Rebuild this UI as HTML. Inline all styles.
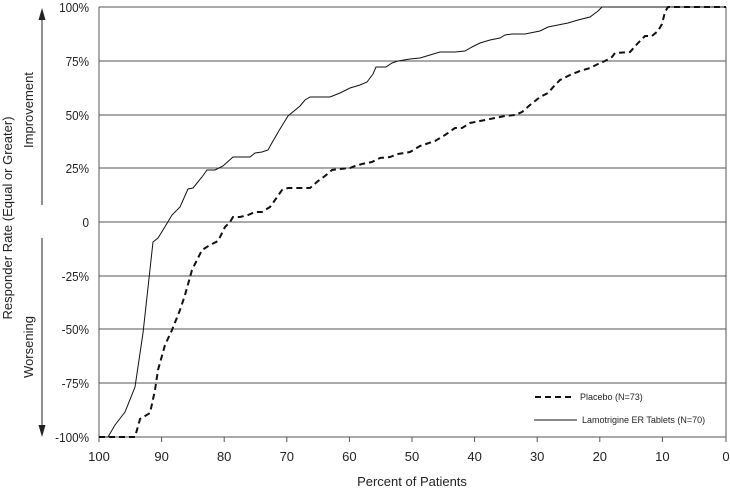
<!DOCTYPE html>
<html><head><meta charset="utf-8"><style>
body{margin:0;background:#fff}
svg{display:block;font-family:"Liberation Sans",sans-serif}
</style></head><body>
<svg width="730" height="491" viewBox="0 0 730 491" xmlns="http://www.w3.org/2000/svg">
<g stroke="#555" stroke-width="1">
<line x1="99" y1="7" x2="726" y2="7"/>
<line x1="99" y1="61" x2="726" y2="61"/>
<line x1="99" y1="115" x2="726" y2="115"/>
<line x1="99" y1="168" x2="726" y2="168"/>
<line x1="99" y1="222" x2="726" y2="222"/>
<line x1="99" y1="276" x2="726" y2="276"/>
<line x1="99" y1="329" x2="726" y2="329"/>
<line x1="99" y1="383" x2="726" y2="383"/>
<line x1="99" y1="437" x2="726" y2="437"/>
<line x1="99" y1="7" x2="99" y2="442"/>
<line x1="726" y1="7" x2="726" y2="442"/>
<line x1="161.6" y1="437" x2="161.6" y2="442"/>
<line x1="224.2" y1="437" x2="224.2" y2="442"/>
<line x1="286.8" y1="437" x2="286.8" y2="442"/>
<line x1="349.4" y1="437" x2="349.4" y2="442"/>
<line x1="412" y1="437" x2="412" y2="442"/>
<line x1="474.6" y1="437" x2="474.6" y2="442"/>
<line x1="537.2" y1="437" x2="537.2" y2="442"/>
<line x1="599.8" y1="437" x2="599.8" y2="442"/>
<line x1="662.4" y1="437" x2="662.4" y2="442"/>
</g>
<g font-size="13" fill="#222" text-anchor="end" transform="translate(89,0) scale(0.9,1) translate(-89,0)">
<text x="89" y="12">100%</text><text x="89" y="66">75%</text><text x="89" y="120">50%</text>
<text x="89" y="173">25%</text><text x="89" y="227">0</text><text x="89" y="281">-25%</text>
<text x="89" y="334">-50%</text><text x="89" y="388">-75%</text><text x="89" y="442">-100%</text>
</g>
<g font-size="13" fill="#222" text-anchor="middle">
<text x="99" y="461">100</text><text x="161.6" y="461">90</text><text x="224.2" y="461">80</text>
<text x="286.8" y="461">70</text><text x="349.4" y="461">60</text><text x="412" y="461">50</text>
<text x="474.6" y="461">40</text><text x="537.2" y="461">30</text><text x="599.8" y="461">20</text>
<text x="662.4" y="461">10</text><text x="726" y="461">0</text>
<text x="412" y="486">Percent of Patients</text>
<text transform="translate(12,218) rotate(-90)">Responder Rate (Equal or Greater)</text>
<text transform="translate(33,110) rotate(-90)">Improvement</text>
<text transform="translate(33,347) rotate(-90)">Worsening</text>
</g>
<g stroke="#222" stroke-width="1">
<line x1="42" y1="205" x2="42" y2="18"/>
<line x1="42" y1="238" x2="42" y2="428"/>
</g>
<polygon points="42,8 38.5,20 45.5,20" fill="#222"/>
<polygon points="42,437 38.5,425 45.5,425" fill="#222"/>
<polyline fill="none" stroke="#111" stroke-width="1" points="99,437 108,437 115,425 125,412 135,387 143,333 153,242 158,238 163,230 172,215 180,207 188,189 193,188 202,177 207,170 215,170 223,166 233,157 250,157 255,153 262,152 268,150 273,141 280,129 288,116 300,106 305,100 310,97 330,97 340,93 350,88 360,85 367,82 373,74 376,67 386,67 392,63 398,61 410,59 420,58 430,55 440,52 455,52 465,51 472,47 480,43 490,40 500,38 505,35 512,34 525,34 530,33 540,31 548,27 558,25 568,23 578,20 590,17 598,11 602,7 726,7"/>
<polyline fill="none" stroke="#111" stroke-width="2" stroke-dasharray="6,4" points="99,437 135,437 140,419 150,413 155,390 158,370 165,345 172,330 180,310 185,295 192,270 202,250 210,245 218,241 225,227 230,222 233,217 240,217 248,215 255,212 262,212 270,207 275,200 282,190 288,188 310,188 318,181 325,176 332,170 340,169 350,168 355,166 362,164 372,162 380,158 390,157 398,154 410,152 420,146 435,141 445,135 455,128 462,128 470,123 480,121 495,118 505,116 515,115 522,112 530,105 540,97 548,93 555,85 560,80 570,75 580,71 590,68 598,64 605,61 612,57 615,53 630,52 638,43 645,36 652,36 658,31 662,24 665,12 668,7 726,7"/>
<line x1="535" y1="397" x2="573" y2="397" stroke="#111" stroke-width="2" stroke-dasharray="6,4"/>
<line x1="534" y1="420" x2="577" y2="420" stroke="#111" stroke-width="1"/>
<g font-size="9" fill="#222">
<text x="580" y="400">Placebo (N=73)</text>
<text x="582" y="423">Lamotrigine ER Tablets (N=70)</text>
</g>
</svg>
</body></html>
